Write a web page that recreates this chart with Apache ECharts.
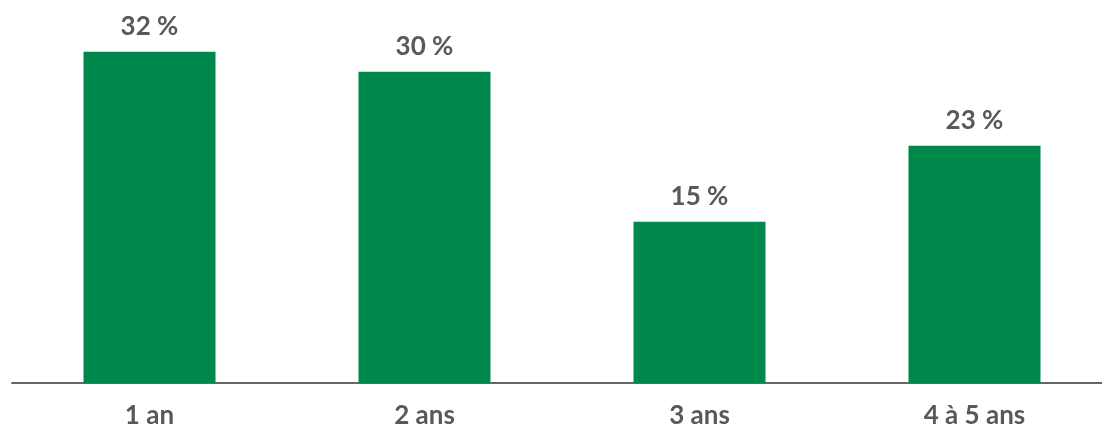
<!DOCTYPE html>
<html>
<head>
<meta charset="utf-8">
<script src="https://cdn.jsdelivr.net/npm/echarts@6/dist/echarts.min.js"></script>
<style>
  html, body { margin: 0; padding: 0; background: #fff; }
  #chart { width: 1102px; height: 427px; }
</style>
</head>
<body>
<div id="chart"></div>
<script>
// catégories et valeurs (en %)
const categories = ['1 an', '2 ans', '3 ans', '4 à 5 ans']
const values = [32, 30, 15, 22.6]

const textColor = '#58595b'
const font = 'Lato, "Open Sans", sans-serif'

const chart = echarts.init(document.getElementById('chart'))
chart.setOption({
  animation: false,
  grid: {
    left: 12, right: -10, top: 10, bottom: 44,
    containLabel: false,
    outerBoundsMode: 'none'
  },
  xAxis: {
    type: 'category',
    data: categories,
    axisLine: { onZero: false, lineStyle: { color: '#666', width: 2 } },
    axisTick: { show: false },
    axisLabel: {
      color: textColor,
      fontFamily: font,
      fontWeight: 'bold',
      fontSize: 26,
      margin: 20
    }
  },
  yAxis: {
    type: 'value',
    min: -1.13,
    max: 36.17,
    startValue: -1.13,
    show: false,
    splitLine: { show: false }
  },
  series: [{
    type: 'bar',
    data: values,
    barWidth: 132,
    itemStyle: { color: '#00874b' },
    label: {
      show: true,
      position: 'top',
      distance: 12,
      color: textColor,
      fontFamily: font,
      fontWeight: 'bold',
      fontSize: 26,
      formatter: p => Math.round(p.value) + ' %'
    }
  }]
})
</script>
</body>
</html>
